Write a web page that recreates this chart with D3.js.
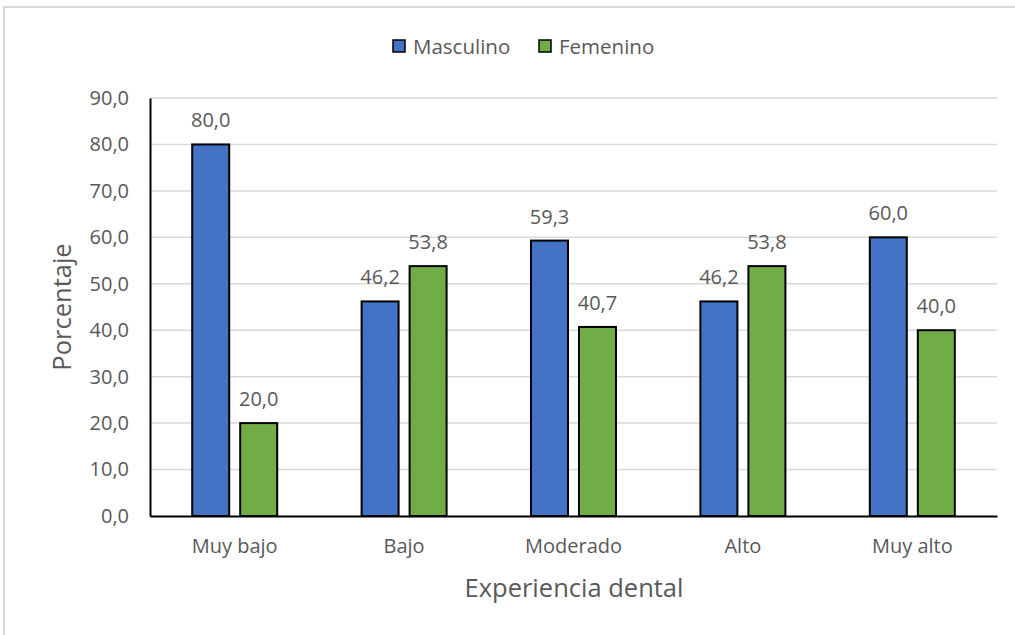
<!DOCTYPE html>
<html>
<head>
<meta charset="utf-8">
<script src="https://cdn.jsdelivr.net/npm/d3@7"></script>
<style>
  html, body { margin: 0; padding: 0; background: #fff; }
  svg { display: block; }
  svg text { font-family: "Open Sans", "Noto Sans", sans-serif; }
</style>
</head>
<body>
<svg id="chart" width="1015" height="635"></svg>
<script>
// Experiencia dental por sexo (%)
const categories = ["Muy bajo", "Bajo", "Moderado", "Alto", "Muy alto"];
const seriesNames = ["Masculino", "Femenino"];
const masculino = [80.0, 46.2, 59.3, 46.2, 60.0];
const femenino = [20.0, 53.8, 40.7, 53.8, 40.0];
const yTicks = [0, 10, 20, 30, 40, 50, 60, 70, 80, 90];
const colors = ["#4472c4", "#70ad47"];

const FONT = '"Open Sans", "Noto Sans", sans-serif';
const TEXT = "#595959";
const svg = d3.select("#chart");
const margin = { left: 150, right: 997, top: 98, bottom: 516 };
const fmt = v => d3.format(".1f")(v).replace(".", ",");

// Chart frame
svg.append("path")
  .attr("d", "M4,635 V7 H1015")
  .attr("fill", "none")
  .attr("stroke", "#d9d9d9")
  .attr("stroke-width", 2);

const x0 = d3.scaleBand().domain(categories).range([margin.left, margin.right]);
const y = d3.scaleLinear().domain([0, 90]).range([margin.bottom, margin.top]);

// Gridlines
svg.append("g").selectAll("line").data(yTicks.filter(t => t > 0)).join("line")
  .attr("x1", margin.left).attr("x2", margin.right)
  .attr("y1", d => y(d)).attr("y2", d => y(d))
  .attr("stroke", "#d9d9d9").attr("stroke-width", 1.5);

// Y axis
const yAxis = svg.append("g")
  .attr("transform", `translate(${margin.left},0)`)
  .call(d3.axisLeft(y).tickValues(yTicks).tickFormat(fmt).tickSize(0).tickPadding(21));
yAxis.attr("font-family", FONT);
yAxis.select(".domain").attr("stroke", "#000").attr("stroke-width", 2);
yAxis.selectAll("text").attr("fill", TEXT).attr("font-size", 20);

// Bars
const data = categories.map((c, i) => ({ cat: c, vals: [masculino[i], femenino[i]] }));
const barW = 37;
const gap = 11;
const groups = svg.append("g").selectAll("g").data(data).join("g")
  .attr("transform", d => `translate(${x0(d.cat) + x0.bandwidth() / 2},0)`);

groups.selectAll("rect").data(d => d.vals.map((v, k) => ({ v, k }))).join("rect")
  .attr("x", d => d.k === 0 ? -barW - gap / 2 : gap / 2)
  .attr("width", barW)
  .attr("y", d => y(d.v))
  .attr("height", d => y(0) - y(d.v))
  .attr("fill", d => colors[d.k])
  .attr("stroke", "#000").attr("stroke-width", 2);

groups.selectAll("text").data(d => d.vals.map((v, k) => ({ v, k }))).join("text")
  .attr("x", d => (d.k === 0 ? -barW - gap / 2 : gap / 2) + barW / 2)
  .attr("y", d => y(d.v) - 17)
  .attr("text-anchor", "middle")
  .attr("fill", TEXT).attr("font-size", 20)
  .text(d => fmt(d.v));

// X axis
const xAxis = svg.append("g")
  .attr("transform", `translate(0,${margin.bottom})`)
  .call(d3.axisBottom(x0).tickSize(0).tickPadding(23));
xAxis.attr("font-family", FONT);
xAxis.select(".domain").attr("stroke", "#000").attr("stroke-width", 2);
xAxis.selectAll("text").attr("fill", TEXT).attr("font-size", 20);

// Axis titles
svg.append("text")
  .attr("x", 574).attr("y", 597)
  .attr("text-anchor", "middle").attr("fill", TEXT).attr("font-size", 25.5)
  .text("Experiencia dental");
svg.append("text")
  .attr("transform", `translate(71,${(margin.top + margin.bottom) / 2}) rotate(-90)`)
  .attr("text-anchor", "middle").attr("fill", TEXT).attr("font-size", 25.5)
  .text("Porcentaje");

// Legend
const legendX = [393, 539];
const legend = svg.append("g").selectAll("g").data(seriesNames).join("g")
  .attr("transform", (d, i) => `translate(${legendX[i]},40)`);
legend.append("rect").attr("width", 12).attr("height", 12)
  .attr("fill", (d, i) => colors[i]).attr("stroke", "#000").attr("stroke-width", 1.5);
legend.append("text").attr("x", 20).attr("y", 13.5)
  .attr("fill", TEXT).attr("font-size", 20.5).text(d => d);
</script>
</body>
</html>
